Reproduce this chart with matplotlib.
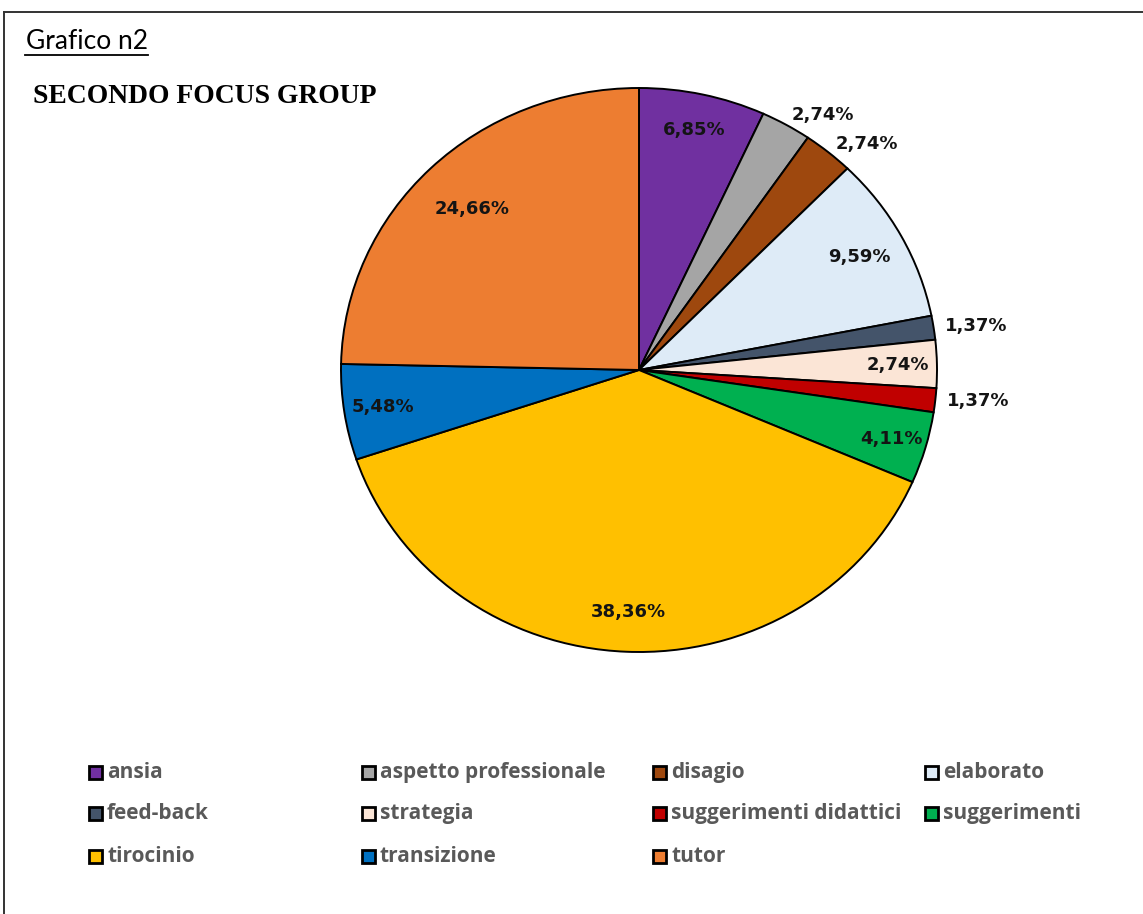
import matplotlib
matplotlib.use("Agg")
import matplotlib.pyplot as plt
from matplotlib.patches import Rectangle
from matplotlib.lines import Line2D
import numpy as np

categories = ["ansia", "aspetto professionale", "disagio", "elaborato", "feed-back",
              "strategia", "suggerimenti didattici", "suggerimenti", "tirocinio",
              "transizione", "tutor"]
values = [6.85, 2.74, 2.74, 9.59, 1.37, 2.74, 1.37, 4.11, 38.36, 5.48, 24.66]
value_labels = ["6,85%", "2,74%", "2,74%", "9,59%", "1,37%", "2,74%", "1,37%",
                "4,11%", "38,36%", "5,48%", "24,66%"]
colors = ["#7030A0", "#A5A5A5", "#9E480E", "#DEEBF7", "#44546A", "#FBE5D6",
          "#C00000", "#00B050", "#FFC000", "#0070C0", "#ED7D31"]
label_outside = [False, True, True, False, True, False, True, False, False, False, False]
label_r = [0.87, 1.04, 1.04, 0.84, 1.04, 0.87, 1.04, 0.88, 0.86, 0.87, 0.80]

W, H = 1143, 914
fig = plt.figure(figsize=(W / 100, H / 100), dpi=100)
fig.patch.set_facecolor("white")

# pie axes (slightly elliptical as in the reference)
cx, cy, rx, ry = 639, 370, 298, 282
ax = fig.add_axes([(cx - rx) / W, (H - cy - ry) / H, 2 * rx / W, 2 * ry / H])
wedges, _ = ax.pie(values, colors=colors, startangle=90, counterclock=False,
                   radius=1.0,
                   wedgeprops=dict(edgecolor="black", linewidth=1.4))
ax.set_aspect("auto")
ax.set_xlim(-1, 1)
ax.set_ylim(-1, 1)
ax.axis("off")

for w, lab, out, r in zip(wedges, value_labels, label_outside, label_r):
    ang = np.deg2rad((w.theta1 + w.theta2) / 2)
    x, y = r * np.cos(ang), r * np.sin(ang)
    ax.text(x, y, lab, ha="left" if out else "center", va="center",
            fontsize=13, fontweight="bold", family="DejaVu Sans",
            color="#141414", clip_on=False)

# titles
fig.text(26 / W, 1 - 49 / H, "Grafico n2", fontsize=19, family="Lato",
         ha="left", va="baseline", color="black")
fig.add_artist(Line2D([25 / W, 148 / W], [1 - 55 / H, 1 - 55 / H],
                      transform=fig.transFigure, color="black", linewidth=1.3))
fig.text(33 / W, 1 - 103 / H, "SECONDO FOCUS GROUP", fontsize=19.9,
         family="Liberation Serif", fontweight="bold", ha="left", va="baseline",
         color="black")

# border (top and left)
fig.add_artist(Line2D([4 / W, 1.0], [1 - 12 / H, 1 - 12 / H],
                      transform=fig.transFigure, color="#333333", linewidth=1.4))
fig.add_artist(Line2D([4 / W, 4 / W], [0, 1 - 12 / H],
                      transform=fig.transFigure, color="#333333", linewidth=1.4))

# legend (row-major grid, equal column widths)
col_x = [89, 362, 653, 925]
row_y = [772, 813, 856]
sq = 13
for i, (cat, col) in enumerate(zip(categories, colors)):
    r, c = divmod(i, 4)
    x0, y0 = col_x[c], row_y[r]
    fig.add_artist(Rectangle((x0 / W, 1 - (y0 + sq / 2) / H), sq / W, sq / H,
                             transform=fig.transFigure, facecolor=col,
                             edgecolor="black", linewidth=2.0))
    fig.text((x0 + sq + 5) / W, 1 - (y0 + 6) / H, cat, fontsize=15,
             family="Open Sans", fontweight="bold", color="#595959",
             ha="left", va="baseline")

fig.savefig("out.png", dpi=100, facecolor="white")
